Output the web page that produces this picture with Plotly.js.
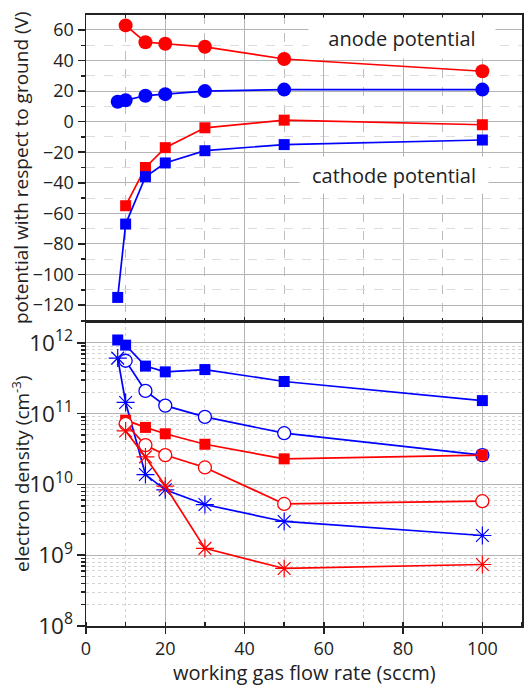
<!DOCTYPE html>
<html>
<head>
<meta charset="utf-8">
<script src="https://cdn.plot.ly/plotly-3.0.1.min.js"></script>
<style>html,body{margin:0;padding:0;background:#fff;}#chart{width:525px;height:687px;}</style>
</head>
<body>
<div id="chart"></div>
<script>
// flow rates (sccm)
const flowBlue = [8, 10, 15, 20, 30, 50, 100];
const flowRed = [10, 15, 20, 30, 50, 100];
const flowBlueOpen = [10, 15, 20, 30, 50, 100];

// top panel: potentials (V)
const anodeRed = [63, 52, 51, 49, 41, 33];
const anodeBlue = [13, 14, 17, 18, 20, 21, 21];
const cathodeRed = [-55, -30, -17, -4, 1, -2];
const cathodeBlue = [-115, -67, -36, -27, -19, -15, -12];

// bottom panel: electron density (cm^-3)
const densBlueSquare = [1.1e12, 9.3e11, 4.7e11, 3.9e11, 4.2e11, 2.85e11, 1.53e11];
const densBlueCircle = [5.6e11, 2.1e11, 1.3e11, 9.0e10, 5.3e10, 2.6e10];
const densBlueStar = [6.1e11, 1.44e11, 1.38e10, 8.4e9, 5.2e9, 3.0e9, 1.9e9];
const densRedSquare = [8.1e10, 6.4e10, 5.2e10, 3.7e10, 2.3e10, 2.6e10];
const densRedCircle = [7.2e10, 3.6e10, 2.6e10, 1.74e10, 5.3e9, 5.8e9];
const densRedStar = [5.7e10, 2.45e10, 9.5e9, 1.25e9, 6.5e8, 7.4e8];

const annoTexts = ['anode potential', 'cathode potential'];
const xTitle = 'working gas flow rate (sccm)';
const yTopTitle = 'potential with respect to ground (V)';
const yBotTitle = 'electron density (cm<sup>-3</sup>)';

const RED = '#ff0000', BLUE = '#0000ff';

function tr(x, y, color, symbol, size, axes, open) {
  const m = {symbol: symbol, size: size, color: open ? '#ffffff' : color,
             line: {color: color, width: open ? 1.3 : 0}};
  if (symbol.indexOf('asterisk') === 0) { m.line.width = 1.2; m.color = color; }
  return {x: x, y: y, type: 'scatter', mode: 'lines+markers',
          line: {color: color, width: 1.7}, marker: m,
          xaxis: axes[0], yaxis: axes[1], cliponaxis: false, hoverinfo: 'skip'};
}

const topAx = ['x2', 'y2'], botAx = ['x', 'y'];
const data = [
  tr(flowRed, anodeRed, RED, 'circle', 14, topAx),
  tr(flowBlue, anodeBlue, BLUE, 'circle', 14, topAx),
  tr(flowRed, cathodeRed, RED, 'square', 11, topAx),
  tr(flowBlue, cathodeBlue, BLUE, 'square', 11, topAx),
  tr(flowBlue, densBlueSquare, BLUE, 'square', 11, botAx),
  tr(flowBlueOpen, densBlueCircle, BLUE, 'circle', 13, botAx, true),
  tr(flowBlue, densBlueStar, BLUE, 'asterisk-open', 15, botAx),
  tr(flowRed, densRedSquare, RED, 'square', 11, botAx),
  tr(flowRed, densRedCircle, RED, 'circle', 13, botAx, true),
  tr(flowRed, densRedStar, RED, 'asterisk-open', 15, botAx)
];

const FONT = 'Open Sans, Noto Sans, sans-serif';
const tickFont = {family: FONT, size: 18, color: '#222'};
const titleFont = {family: FONT, size: 19, color: '#222'};
const lineCol = '#222';
const grid = '#b4b4b4';

const layout = {
  width: 525, height: 687,
  margin: {l: 86, r: 3, t: 15, b: 61},
  paper_bgcolor: '#fff', plot_bgcolor: '#fff',
  showlegend: false,
  font: {family: FONT, color: '#222'},
  xaxis: {
    domain: [0, 1], anchor: 'y', range: [0, 110], tick0: 0, dtick: 20,
    ticks: 'outside', ticklen: 6, tickwidth: 1.5, tickcolor: lineCol,
    showgrid: true, gridcolor: grid, gridwidth: 1, zeroline: false,
    showline: true, linecolor: lineCol, linewidth: 1.5, mirror: true,
    tickfont: tickFont,
    minor: {dtick: 10, tick0: 0, ticks: 'inside', ticklen: 4, tickcolor: lineCol,
            showgrid: true, griddash: 'dot', gridcolor: '#d4d4d4'}
  },
  yaxis: {
    domain: [0, 0.499], anchor: 'x', type: 'log', range: [8, 12.308], dtick: 1,
    exponentformat: 'power', ticks: 'outside', ticklen: 8, tickwidth: 1.5, tickcolor: lineCol,
    showgrid: true, gridcolor: grid, zeroline: false,
    showline: true, linecolor: lineCol, linewidth: 1.5, mirror: true,
    tickfont: tickFont,
    minor: {dtick: 'D1', ticks: 'outside', ticklen: 4, tickcolor: lineCol,
            showgrid: true, griddash: 'dot', gridcolor: '#d4d4d4'}
  },
  xaxis2: {
    domain: [0, 1], anchor: 'y2', matches: 'x', range: [0, 110], tick0: 0, dtick: 20,
    showticklabels: false, ticks: 'inside', ticklen: 4, tickcolor: lineCol,
    showgrid: true, gridcolor: grid, zeroline: false,
    showline: true, linecolor: lineCol, linewidth: 2, mirror: 'ticks',
    minor: {dtick: 10, tick0: 0, ticks: 'inside', ticklen: 3, tickcolor: lineCol,
            showgrid: true, griddash: 'dash', gridcolor: '#bdbdbd'}
  },
  yaxis2: {
    domain: [0.499, 1], anchor: 'x2', range: [-130.5, 69.8], tick0: 0, dtick: 20,
    ticks: 'outside', ticklen: 7, tickwidth: 1.5, tickcolor: lineCol,
    showgrid: true, gridcolor: grid, zeroline: false,
    showline: true, linecolor: lineCol, linewidth: 1.5, mirror: true,
    tickfont: tickFont,
    minor: {dtick: 10, ticks: 'outside', ticklen: 4, tickcolor: lineCol,
            showgrid: true, griddash: 'dash', gridcolor: '#dcdcdc'}
  },
  annotations: [
    {xref: 'x2', yref: 'y2', x: 79.6, y: 54.8, text: annoTexts[0], showarrow: false,
     bgcolor: '#fff', width: 184, height: 38, font: {family: FONT, size: 20, color: '#222'}},
    {xref: 'x2', yref: 'y2', x: 77.7, y: -34.9, text: annoTexts[1], showarrow: false,
     bgcolor: '#fff', width: 186, height: 34, font: {family: FONT, size: 20, color: '#222'}},
    {xref: 'paper', yref: 'paper', x: 0.5, y: -0.0769, xanchor: 'center', yanchor: 'middle',
     text: xTitle, showarrow: false, font: {family: FONT, size: 20, color: '#222'}},
    {xref: 'paper', yref: 'paper', x: -0.149, y: 0.7496, xanchor: 'center', yanchor: 'middle',
     textangle: -90, text: yTopTitle, showarrow: false, font: titleFont},
    {xref: 'paper', yref: 'paper', x: -0.149, y: 0.2488, xanchor: 'center', yanchor: 'middle',
     textangle: -90, text: yBotTitle, showarrow: false, font: titleFont}
  ]
};

Plotly.newPlot('chart', data, layout, {displayModeBar: false, staticPlot: true});
</script>
</body>
</html>
